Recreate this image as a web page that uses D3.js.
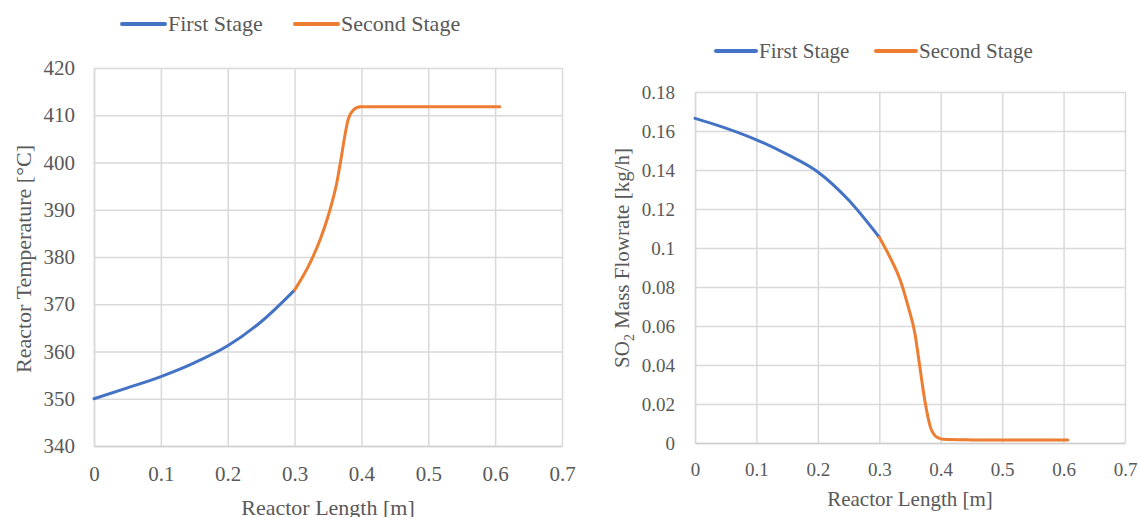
<!DOCTYPE html>
<html>
<head>
<meta charset="utf-8">
<script src="https://cdn.jsdelivr.net/npm/d3@7"></script>
<style>
  body { margin: 0; background: #fff; }
  svg { display: block; font-family: "Liberation Serif", serif; }
  .tick text { fill: #595959; }
</style>
</head>
<body>
<div id="chart"></div>
<script>
/* DATA */
// left chart: reactor temperature
const lenTempFirst = [0, 0.05, 0.1, 0.15, 0.2, 0.25, 0.3];
const tempFirst = [350, 352.3, 354.7, 357.6, 361.2, 366.3, 373.0];
const lenTempSecond = [0.3, 0.323, 0.338, 0.353, 0.363, 0.37, 0.375, 0.38, 0.388, 0.398, 0.45, 0.5, 0.55, 0.607];
const tempSecond = [373.0, 378.7, 383.6, 390, 395.6, 401.2, 405.5, 409, 411.1, 411.8, 411.8, 411.8, 411.8, 411.8];

// right chart: SO2 mass flowrate
const lenSO2First = [0, 0.05, 0.1, 0.15, 0.2, 0.25, 0.3];
const so2First = [0.1665, 0.1615, 0.1555, 0.148, 0.139, 0.1246, 0.1055];
const lenSO2Second = [0.3, 0.317, 0.334, 0.347, 0.358, 0.366, 0.374, 0.383, 0.394, 0.404, 0.45, 0.5, 0.55, 0.607];
const so2Second = [0.1055, 0.0955, 0.0836, 0.070, 0.0562, 0.0391, 0.022, 0.0084, 0.0029, 0.0019, 0.0016, 0.0015, 0.0015, 0.0015];

const xTicks = [0, 0.1, 0.2, 0.3, 0.4, 0.5, 0.6, 0.7];
const tempTicks = [340, 350, 360, 370, 380, 390, 400, 410, 420];
const so2Ticks = [0, 0.02, 0.04, 0.06, 0.08, 0.1, 0.12, 0.14, 0.16, 0.18];
const seriesNames = ["First Stage", "Second Stage"];

/* CONSTANTS */
const width = 1139, height = 517;
const blue = "#4472C4", orange = "#ED7D31", textColor = "#595959", gridColor = "#d9d9d9";

const svg = d3.select("#chart").append("svg")
  .attr("width", width)
  .attr("height", height);

svg.append("rect").attr("width", width).attr("height", height).attr("fill", "#fff");

// draws one of the two panels
function drawPanel(cfg) {
  const xScale = d3.scaleLinear().domain([0, 0.7]).range([cfg.left, cfg.right]);
  const yScale = d3.scaleLinear().domain(cfg.yDomain).range([cfg.bottom, cfg.top]);
  const g = svg.append("g");

  // gridlines + y labels
  const yAxis = d3.axisLeft(yScale)
    .tickValues(cfg.yTicks)
    .tickFormat(d => String(+d.toFixed(2)))
    .tickSizeInner(-(cfg.right - cfg.left))
    .tickSizeOuter(0)
    .tickPadding(cfg.yPad);
  const yG = g.append("g")
    .attr("transform", `translate(${cfg.left},0)`)
    .call(yAxis);
  yG.selectAll(".tick line").attr("stroke", gridColor).attr("stroke-width", 1.5);
  yG.selectAll(".tick text").attr("font-size", cfg.tickSize).attr("font-family", "Liberation Serif");
  yG.select(".domain").attr("stroke", gridColor).attr("stroke-width", 1.5);

  const xAxis = d3.axisBottom(xScale)
    .tickValues(xTicks)
    .tickFormat(d => String(+d.toFixed(1)))
    .tickSizeInner(-(cfg.bottom - cfg.top))
    .tickSizeOuter(0)
    .tickPadding(cfg.xPad);
  const xG = g.append("g")
    .attr("transform", `translate(0,${cfg.bottom})`)
    .call(xAxis);
  xG.selectAll(".tick line").attr("stroke", gridColor).attr("stroke-width", 1.5);
  xG.selectAll(".tick text").attr("font-size", cfg.tickSize).attr("font-family", "Liberation Serif");
  xG.select(".domain").attr("stroke", "#cfcfcf").attr("stroke-width", 1.5);

  // lines
  const line = d3.line()
    .x(d => xScale(d[0]))
    .y(d => yScale(d[1]))
    .curve(d3.curveMonotoneX);

  const series = [
    { pts: d3.zip(cfg.x1, cfg.y1), color: blue },
    { pts: d3.zip(cfg.x2, cfg.y2), color: orange }
  ];
  g.selectAll("path.series")
    .data(series)
    .join("path")
    .attr("class", "series")
    .attr("fill", "none")
    .attr("stroke", d => d.color)
    .attr("stroke-width", 3)
    .attr("stroke-linecap", "round")
    .attr("d", d => line(d.pts));

  // x title
  g.append("text")
    .attr("x", (cfg.left + cfg.right) / 2)
    .attr("y", cfg.xTitleY)
    .attr("dy", "0.35em")
    .attr("text-anchor", "middle")
    .attr("font-size", cfg.titleSize)
    .attr("fill", textColor)
    .text("Reactor Length [m]");

  // y title
  const yt = g.append("text")
    .attr("transform", `translate(${cfg.yTitleX},${cfg.yTitleY}) rotate(-90)`)
    .attr("dy", "0.35em")
    .attr("text-anchor", "middle")
    .attr("font-size", cfg.titleSize)
    .attr("fill", textColor);
  cfg.yTitle(yt);

  // legend
  const leg = g.selectAll("g.legend")
    .data(seriesNames)
    .join("g")
    .attr("class", "legend")
    .attr("transform", (d, i) => `translate(${cfg.legendX[i]},${cfg.legendY})`);
  leg.append("line")
    .attr("x1", 0).attr("x2", cfg.legendLine)
    .attr("stroke", (d, i) => i === 0 ? blue : orange)
    .attr("stroke-width", 4)
    .attr("stroke-linecap", "round");
  leg.append("text")
    .attr("x", cfg.legendLine + 3)
    .attr("dy", "0.33em")
    .attr("font-size", cfg.legendSize)
    .attr("fill", textColor)
    .text(d => d);
}

drawPanel({
  left: 94, right: 562, top: 68, bottom: 446,
  yDomain: [340, 420], yTicks: tempTicks, yPad: 19, xPad: 20,
  tickSize: 21, titleSize: 22,
  x1: lenTempFirst, y1: tempFirst, x2: lenTempSecond, y2: tempSecond,
  xTitleY: 507, yTitleX: 23, yTitleY: 259,
  yTitle: t => t.text("Reactor Temperature [°C]"),
  legendX: [122, 295], legendY: 24, legendLine: 43, legendSize: 22
});

drawPanel({
  left: 695, right: 1125, top: 92, bottom: 443,
  yDomain: [0, 0.18], yTicks: so2Ticks, yPad: 20, xPad: 20,
  tickSize: 19, titleSize: 21,
  x1: lenSO2First, y1: so2First, x2: lenSO2Second, y2: so2Second,
  xTitleY: 499, yTitleX: 622, yTitleY: 258,
  yTitle: t => {
    t.append("tspan").text("SO");
    t.append("tspan").attr("font-size", 14).attr("dy", 5).text("2");
    t.append("tspan").attr("dy", -5).text(" Mass Flowrate [kg/h]");
  },
  legendX: [716, 876], legendY: 51, legendLine: 40, legendSize: 21
});
</script>
</body>
</html>
